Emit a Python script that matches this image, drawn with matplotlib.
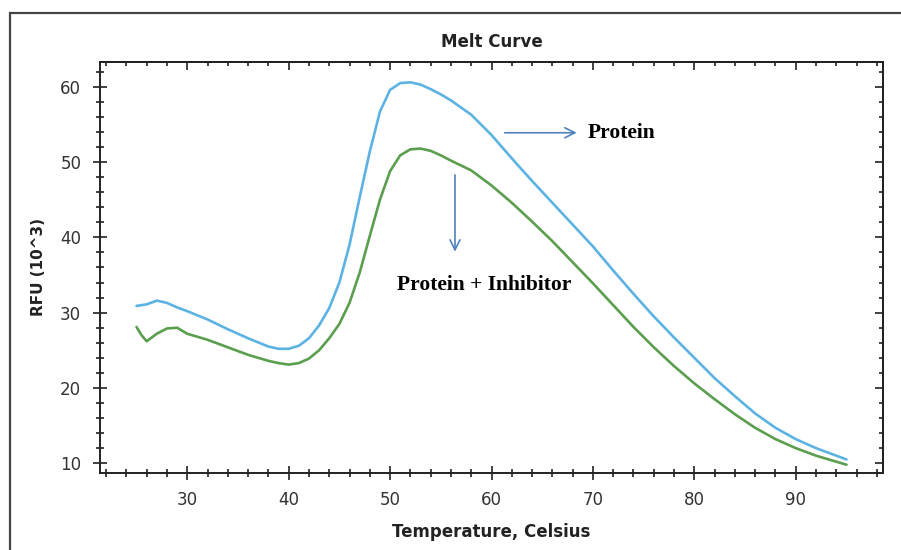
import matplotlib
matplotlib.use("Agg")
import matplotlib.pyplot as plt
from matplotlib.patches import Rectangle
from matplotlib.ticker import MultipleLocator

# Melt curve readings (temperature in Celsius, RFU in thousands)
temperature = [25, 25.5, 26, 27, 28, 29, 30, 32, 34, 36, 38, 39, 40, 41, 42, 43,
               44, 45, 46, 47, 48, 49, 50, 51, 52, 53, 54, 55, 56, 58, 60, 62,
               64, 66, 68, 70, 72, 74, 76, 78, 80, 82, 84, 86, 88, 90, 92, 94, 95]
protein = [30.9, 31.0, 31.1, 31.6, 31.3, 30.7, 30.2, 29.1, 27.8, 26.6, 25.5, 25.2,
           25.2, 25.6, 26.6, 28.3, 30.6, 34.0, 39.0, 45.3, 51.4, 56.7, 59.6, 60.5,
           60.6, 60.3, 59.7, 59.0, 58.2, 56.3, 53.6, 50.5, 47.5, 44.6, 41.7, 38.8,
           35.6, 32.5, 29.5, 26.7, 24.0, 21.3, 18.9, 16.6, 14.7, 13.2, 12.0, 11.0,
           10.5]
protein_inhibitor = [28.1, 27.0, 26.2, 27.2, 27.9, 28.0, 27.2, 26.4, 25.4, 24.4,
                     23.6, 23.3, 23.1, 23.3, 23.9, 25.0, 26.6, 28.5, 31.3, 35.3,
                     40.2, 45.0, 48.8, 50.9, 51.7, 51.8, 51.5, 50.9, 50.2, 48.9,
                     46.9, 44.6, 42.1, 39.5, 36.7, 33.9, 31.0, 28.1, 25.4, 22.9,
                     20.6, 18.5, 16.5, 14.7, 13.2, 12.0, 11.0, 10.2, 9.8]

x_ticks = [30, 40, 50, 60, 70, 80, 90]
y_ticks = [10, 20, 30, 40, 50, 60]

fig = plt.figure(figsize=(9.01, 5.5), dpi=100)
ax = fig.add_axes([100 / 901, 1 - 473 / 550, 783 / 901, 411 / 550])

ax.plot(temperature, protein, color="#5cb3e3", lw=1.9,
        solid_capstyle="round", solid_joinstyle="round")
ax.plot(temperature, protein_inhibitor, color="#5a9e4e", lw=1.9,
        solid_capstyle="round", solid_joinstyle="round")

ax.set_xlim(21.4, 98.6)
ax.set_ylim(8.7, 63.3)
ax.set_xticks(x_ticks)
ax.set_yticks(y_ticks)
ax.xaxis.set_minor_locator(MultipleLocator(2))
ax.yaxis.set_minor_locator(MultipleLocator(2))

for lab in ax.get_xticklabels() + ax.get_yticklabels():
    lab.set_fontfamily("DejaVu Sans")
    lab.set_fontsize(12)
    lab.set_color("#333333")

ax.tick_params(which="major", direction="inout", length=10, width=1.2,
               color="#222222", top=False, right=False)
ax.tick_params(which="minor", direction="inout", length=5.8, width=1.2,
               color="#222222", top=False, right=False)
ax.tick_params(axis="x", which="major", pad=8)
ax.tick_params(axis="y", which="major", pad=8.5)

for sp in ax.spines.values():
    sp.set_linewidth(1.4)
    sp.set_color("#222222")

# Inward ticks on the top and right edges
top = ax.secondary_xaxis("top")
top.set_xticks(x_ticks)
top.xaxis.set_minor_locator(MultipleLocator(2))
top.tick_params(which="major", direction="in", length=5.8, width=1.2,
                color="#222222", labeltop=False)
top.tick_params(which="minor", direction="in", length=3.2, width=1.2,
                color="#222222")
top.spines["top"].set_linewidth(1.4)
top.spines["top"].set_color("#222222")

right = ax.secondary_yaxis("right")
right.set_yticks(y_ticks)
right.yaxis.set_minor_locator(MultipleLocator(2))
right.tick_params(which="major", direction="in", length=5.8, width=1.2,
                  color="#222222", labelright=False)
right.tick_params(which="minor", direction="in", length=3.2, width=1.2,
                  color="#222222")
right.spines["right"].set_linewidth(1.4)
right.spines["right"].set_color("#222222")

ax.set_title("Melt Curve", fontfamily="DejaVu Sans", fontweight="bold",
             fontsize=12, color="#222222", pad=11)
ax.set_xlabel("Temperature, Celsius", fontfamily="DejaVu Sans", fontweight="bold",
              fontsize=12, color="#222222", labelpad=10)
ax.set_ylabel("RFU (10^3)", fontfamily="DejaVu Sans", fontweight="bold",
              fontsize=11, color="#222222", labelpad=10)

# Annotations
arrow_color = "#4f81bd"
ax.annotate("", xy=(68.4, 53.9), xytext=(61.3, 53.9),
            arrowprops=dict(arrowstyle="->", color=arrow_color, lw=1.2,
                            mutation_scale=18, shrinkA=0, shrinkB=0))
ax.text(69.5, 53.9, "Protein", fontfamily="Liberation Serif", fontweight="bold",
        fontsize=15.5, color="black", ha="left", va="center")
ax.annotate("", xy=(56.4, 38.1), xytext=(56.4, 48.3),
            arrowprops=dict(arrowstyle="->", color=arrow_color, lw=1.2,
                            mutation_scale=18, shrinkA=0, shrinkB=0))
ax.text(59.3, 33.7, "Protein + Inhibitor", fontfamily="Liberation Serif",
        fontweight="bold", fontsize=15.5, color="black", ha="center", va="center")

# Outer frame
fig.patches.append(Rectangle((10 / 901, -0.2), 1.5, 1.2 - 13 / 550,
                             transform=fig.transFigure, fill=False,
                             edgecolor="#444444", lw=1.6))

fig.savefig("out.png", dpi=100)
